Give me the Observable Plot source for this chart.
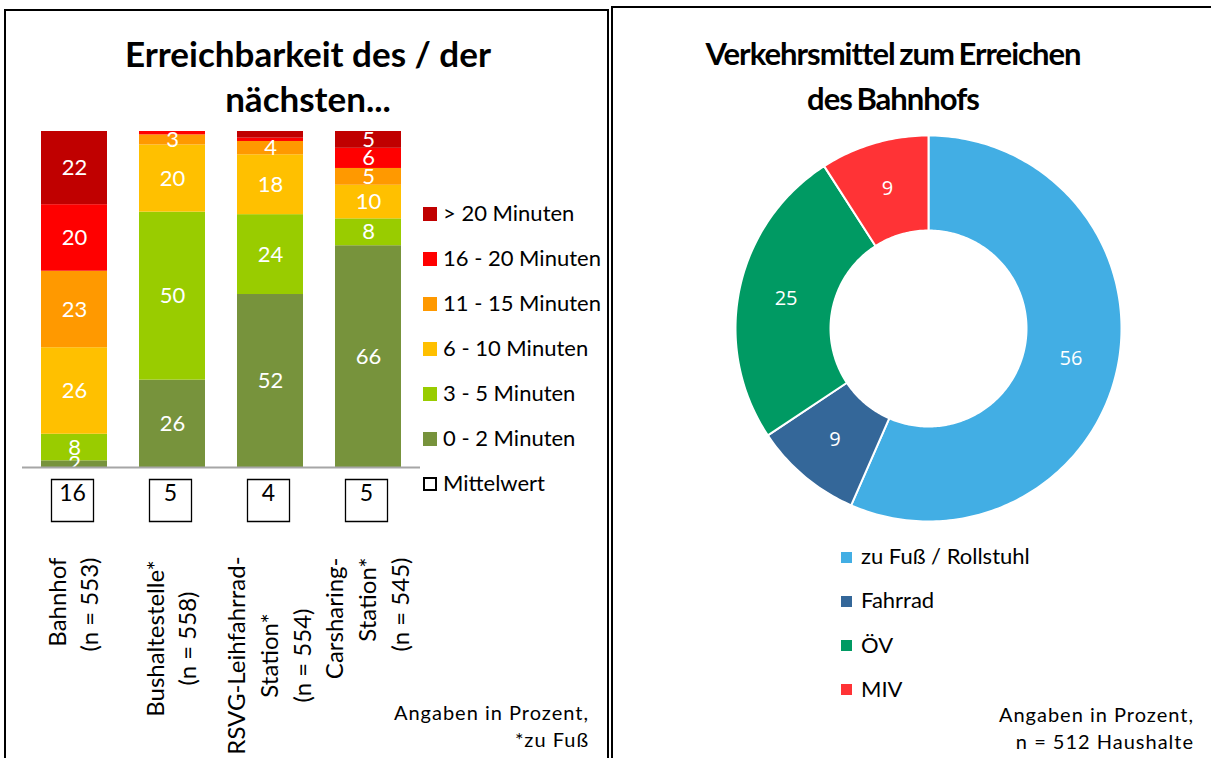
<!DOCTYPE html>
<html><head><meta charset="utf-8">
<script src="https://cdn.jsdelivr.net/npm/d3@7"></script>
<script src="https://cdn.jsdelivr.net/npm/@observablehq/plot@0.6"></script>
<style>
html,body{margin:0;padding:0;background:#fff;}
body{width:1211px;height:758px;overflow:hidden;position:relative;font-family:Lato,"Noto Sans",sans-serif;color:#000;}
.panel{position:absolute;border:2px solid #000;box-sizing:border-box;}
.title{position:absolute;text-align:center;font-weight:bold;line-height:45px;white-space:nowrap;}
.abs{position:absolute;}
.leg{position:absolute;font-size:22px;white-space:nowrap;line-height:24px;}
.sw{position:absolute;}
.note{position:absolute;text-align:right;font-size:20px;letter-spacing:1px;line-height:27px;white-space:nowrap;}
</style></head>
<body>
<div class="panel" style="left:4px;top:9px;width:605px;height:800px;"></div>
<div class="panel" style="left:611px;top:6px;width:640px;height:800px;"></div>
<div class="title" style="left:8px;top:31px;width:600px;font-size:35px;">Erreichbarkeit des / der<br>nächsten...</div>
<div class="title" style="left:614px;top:31px;width:558px;font-size:31px;letter-spacing:-1px;word-spacing:-2px;">Verkehrsmittel zum Erreichen<br>des Bahnhofs</div>
<div id="leftChart" class="abs" style="left:0;top:0;"></div>
<div id="leftLegend"></div>
<div id="rightChart" class="abs"></div>
<div id="rightLegend"></div>
<div class="note" style="right:622px;top:699px;">Angaben in Prozent,<br>*zu Fuß</div>
<div class="note" style="right:17px;top:701px;">Angaben in Prozent,<br>n = 512 Haushalte</div>
<script>
// ---- Left chart data ----
const stations = ["Bahnhof", "Bushaltestelle*", "RSVG-Leihfahrrad-Station*", "Carsharing-Station*"];
const stationLabels = ["Bahnhof\n(n = 553)", "Bushaltestelle*\n(n = 558)", "RSVG-Leihfahrrad-\nStation*\n(n = 554)", "Carsharing-\nStation*\n(n = 545)"];
const timeClasses = ["0 - 2 Minuten", "3 - 5 Minuten", "6 - 10 Minuten", "11 - 15 Minuten", "16 - 20 Minuten", "> 20 Minuten"];
const timeColors = ["#77933C", "#99CC00", "#FFC000", "#FF9900", "#FF0000", "#C00000"];
const bahnhof = [2, 8, 26, 23, 20, 22];
const bushaltestelle = [26, 50, 20, 3, 1, 0];
const rsvg = [52, 24, 18, 4, 1, 2];
const carsharing = [66, 8, 10, 5, 6, 5];
const means = [16, 5, 4, 5];
const hiddenLabels = [["RSVG-Leihfahrrad-Station*", "> 20 Minuten"]];

// ---- Right chart data ----
const modes = ["zu Fuß / Rollstuhl", "Fahrrad", "ÖV", "MIV"];
const modeShares = [56, 9, 25, 9];
const modeColors = ["#42AEE4", "#346799", "#009A63", "#FF3336"];

// ---- Left chart ----
const series = [bahnhof, bushaltestelle, rsvg, carsharing];
const rows = stations.flatMap((s, i) => timeClasses.map((c, j) => ({station: s, cls: c, value: series[i][j]})));
const isHidden = d => d.value < 2 || hiddenLabels.some(([s, c]) => s === d.station && c === d.cls);
const meanRows = stations.map((s, i) => ({station: s, mean: means[i]}));
const labelRows = stations.map((s, i) => ({station: s, label: stationLabels[i]}));
const labelMark = (names, anchor, dy) => Plot.text(labelRows.filter(d => names.includes(d.station)), {
  x: "station", text: "label", frameAnchor: "bottom", dx: -3, dy, rotate: -90,
  textAnchor: anchor, lineAnchor: "middle", lineHeight: 1.36, fontSize: 24, fill: "#000"
});

const left = Plot.plot({
  width: 420, height: 758,
  marginTop: 131, marginBottom: 291, marginLeft: 22, marginRight: 0,
  style: {fontFamily: "Lato, sans-serif", overflow: "visible", background: "transparent"},
  x: {domain: stations, axis: null, paddingInner: 0.33, paddingOuter: 0.18},
  y: {domain: [0, 1], axis: null},
  color: {domain: timeClasses, range: timeColors},
  marks: [
    Plot.barY(rows, Plot.stackY({x: "station", y: "value", fill: "cls", order: timeClasses, offset: "normalize"})),
    Plot.text(rows, Plot.stackY({x: "station", y: "value", z: "cls", order: timeClasses, offset: "normalize",
      text: d => isHidden(d) ? null : String(d.value), fill: "white", fontSize: 22, clip: true})),
    Plot.ruleY([0], {stroke: "#A6A6A6", strokeWidth: 2}),
    Plot.dot(meanRows, {x: "station", frameAnchor: "bottom", dx: -2, dy: 33, symbol: "square", r: 23.7, fill: "white", stroke: "black", strokeWidth: 1.3}),
    Plot.text(meanRows, {x: "station", frameAnchor: "bottom", dx: -2, dy: 33, text: d => String(d.mean), fontSize: 23, fill: "#000"}),
    labelMark(["Bahnhof", "Carsharing-Station*"], "end", 90),
    labelMark(["Bushaltestelle*"], "middle", 171),
    labelMark(["RSVG-Leihfahrrad-Station*"], "middle", 188)
  ]
});
document.getElementById("leftChart").appendChild(left);

// Left legend (top: > 20 Minuten)
const ll = document.getElementById("leftLegend");
[...timeClasses].reverse().forEach((c, k) => {
  const col = timeColors[timeClasses.indexOf(c)];
  const cy = 214 + 45 * k;
  ll.insertAdjacentHTML("beforeend",
    `<div class="sw" style="left:423px;top:${cy - 7}px;width:14px;height:14px;background:${col}"></div>` +
    `<div class="leg" style="left:443px;top:${cy - 13}px;">${c}</div>`);
});
{
  const cy = 214 + 45 * 6;
  ll.insertAdjacentHTML("beforeend",
    `<div class="sw" style="left:423px;top:${cy - 7}px;width:14px;height:14px;box-sizing:border-box;border:2px solid #000;background:#fff"></div>` +
    `<div class="leg" style="left:443px;top:${cy - 13}px;">Mittelwert</div>`);
}

// ---- Right chart (donut) ----
const total = d3.sum(modeShares);
const inner = 98 / 193;
const midR = (1 + inner) / 2;
let acc = 0;
const slices = modes.map((m, i) => {
  const a0 = acc / total * 2 * Math.PI;
  acc += modeShares[i];
  const a1 = acc / total * 2 * Math.PI;
  const n = Math.max(2, Math.ceil((a1 - a0) / (Math.PI / 180)));
  const outerPts = d3.range(n + 1).map(k => { const t = a0 + (a1 - a0) * k / n; return [Math.sin(t), -Math.cos(t)]; });
  const innerPts = d3.range(n, -1, -1).map(k => { const t = a0 + (a1 - a0) * k / n; return [inner * Math.sin(t), -inner * Math.cos(t)]; });
  const ring = [...outerPts, ...innerPts, outerPts[0]];
  const am = (a0 + a1) / 2;
  return {
    feature: {type: "Feature", properties: {mode: m, value: modeShares[i]}, geometry: {type: "Polygon", coordinates: [ring]}},
    mode: m, value: modeShares[i], lx: midR * Math.sin(am), ly: -midR * Math.cos(am)
  };
});
const R = 193;
const right = Plot.plot({
  width: 2 * R, height: 2 * R, margin: 0,
  style: {overflow: "visible", background: "transparent"},
  projection: {type: "identity", domain: {type: "MultiPoint", coordinates: [[-1, -1], [1, 1]]}, inset: 0},
  color: {domain: modes, range: modeColors},
  marks: [
    Plot.geo(slices.map(s => s.feature), {fill: d => d.properties.mode, stroke: "white", strokeWidth: 2}),
    Plot.text(slices, {x: "lx", y: "ly", text: d => String(d.value), fill: "white", fontSize: 20, fontFamily: "Open Sans, sans-serif"})
  ]
});
const rc = document.getElementById("rightChart");
rc.style.left = (928 - R) + "px";
rc.style.top = (327.5 - R) + "px";
rc.appendChild(right);

// Right legend
const rl = document.getElementById("rightLegend");
modes.forEach((m, i) => {
  const cy = 557 + 44.3 * i;
  rl.insertAdjacentHTML("beforeend",
    `<div class="sw" style="left:841px;top:${cy - 5.5}px;width:11px;height:11px;background:${modeColors[i]}"></div>` +
    `<div class="leg" style="left:861px;top:${cy - 13}px;">${m}</div>`);
});
</script>
</body></html>
